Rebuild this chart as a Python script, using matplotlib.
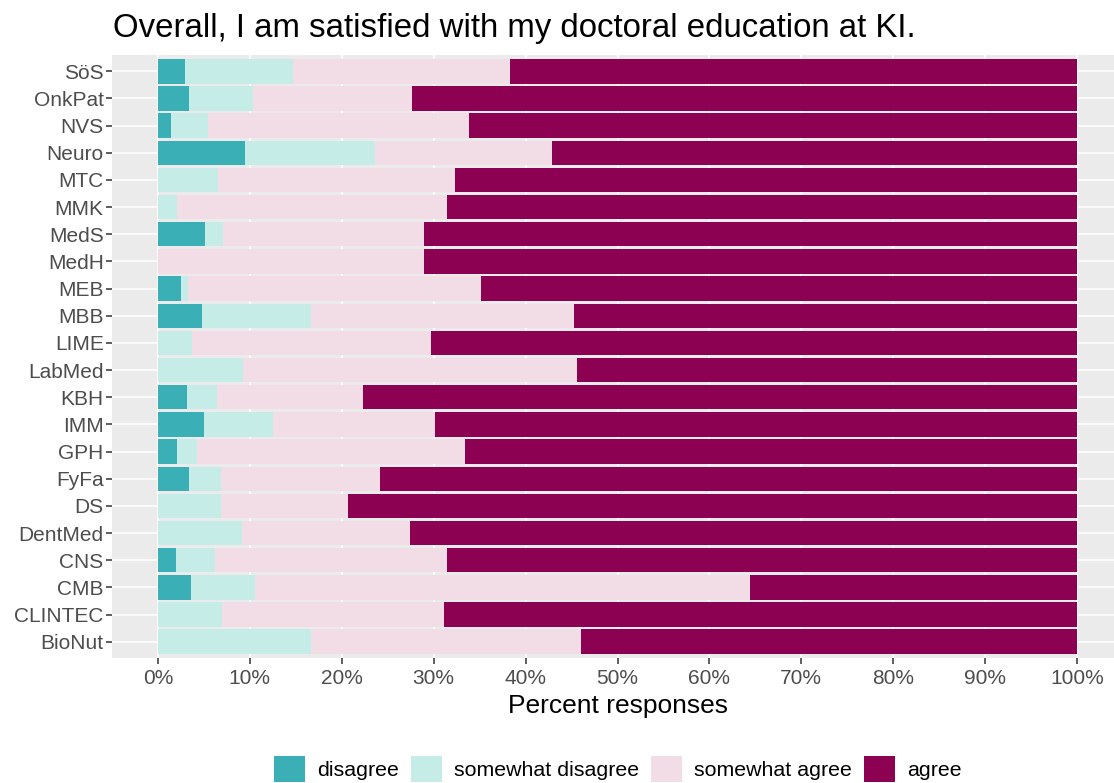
import numpy as np
import matplotlib
matplotlib.use("Agg")
import matplotlib.pyplot as plt
from matplotlib.patches import Patch

# departments, bottom to top as drawn
departments = ["BioNut", "CLINTEC", "CMB", "CNS", "DentMed", "DS", "FyFa", "GPH",
               "IMM", "KBH", "LabMed", "LIME", "MBB", "MEB", "MedH", "MedS",
               "MMK", "MTC", "Neuro", "NVS", "OnkPat", "SöS"]

# percent of responses per answer
disagree = [0, 0, 3.6, 2.0, 0, 0, 3.4, 2.1, 5.0, 3.2, 0,
            0, 4.8, 2.5, 0, 5.1, 0, 0, 9.5, 1.4, 3.4, 2.9]
somewhat_disagree = [16.7, 7.0, 7.0, 4.2, 9.1, 6.9, 3.5, 2.1, 7.5, 3.2, 9.3,
                     3.7, 11.9, 0.8, 0, 2.0, 2.1, 6.5, 14.1, 4.0, 6.9, 11.8]
somewhat_agree = [29.3, 24.1, 53.8, 25.2, 18.3, 13.8, 17.3, 29.2, 17.6, 15.9, 36.3,
                  26.0, 28.6, 31.8, 28.9, 21.8, 29.3, 25.8, 19.3, 28.4, 17.3, 23.6]
agree = [54.0, 68.9, 35.6, 68.6, 72.6, 79.3, 75.8, 66.6, 69.9, 77.7, 54.4,
         70.3, 54.7, 64.9, 71.1, 71.1, 68.6, 67.7, 57.1, 66.2, 72.4, 61.7]

answers = ["disagree", "somewhat disagree", "somewhat agree", "agree"]
colors = ["#3AAFB5", "#C6ECE8", "#F2DDE7", "#8C0152"]

plt.rcParams["font.family"] = ["Liberation Sans", "DejaVu Sans"]

fig = plt.figure(figsize=(11.14, 7.83), dpi=100)
# panel runs a little past the right edge of the picture, as in the original
ax = fig.add_axes([112 / 1114, 1 - 658 / 783, (1123 - 112) / 1114, (658 - 55) / 783])
ax.set_facecolor("#EBEBEB")

y = np.arange(len(departments))
left = np.zeros(len(departments))
for vals, col in zip([disagree, somewhat_disagree, somewhat_agree, agree], colors):
    vals = np.array(vals)
    ax.barh(y, vals, left=left, height=0.9, color=col, zorder=2)
    left += vals

ax.set_xlim(-5, 105)
ax.set_ylim(-0.6, len(departments) - 0.4)
ax.set_xticks(np.arange(0, 101, 10))
ax.set_xticklabels([f"{v}%" for v in range(0, 101, 10)])
ax.set_yticks(y)
ax.set_yticklabels(departments)
for v in range(0, 101, 10):
    ax.axvline(v, color="white", lw=1.1, zorder=1)
for v in y:
    ax.axhline(v, color="white", lw=1.1, zorder=1)
for s in ax.spines.values():
    s.set_visible(False)
ax.tick_params(axis="both", colors="#333333", labelcolor="#4D4D4D",
               labelsize=15, length=4, width=1.1, pad=2)
ax.tick_params(axis="x", pad=4.2)

ax.set_xlabel("Percent responses", fontsize=19, color="black", labelpad=4)
fig.text(113 / 1114, 1 - 29 / 783, "Overall, I am satisfied with my doctoral education at KI.",
         fontsize=23.8, va="center", ha="left", color="black")

handles = [Patch(facecolor=c, edgecolor="none") for c in colors]
fig.legend(handles, answers, loc="center", bbox_to_anchor=(618 / 1114, 1 - 769 / 783),
           ncol=4, frameon=False, fontsize=15.4, handlelength=1.45, handleheight=1.45,
           handletextpad=0.56, columnspacing=0.56, borderaxespad=0)

fig.savefig("out.png", dpi=100)
